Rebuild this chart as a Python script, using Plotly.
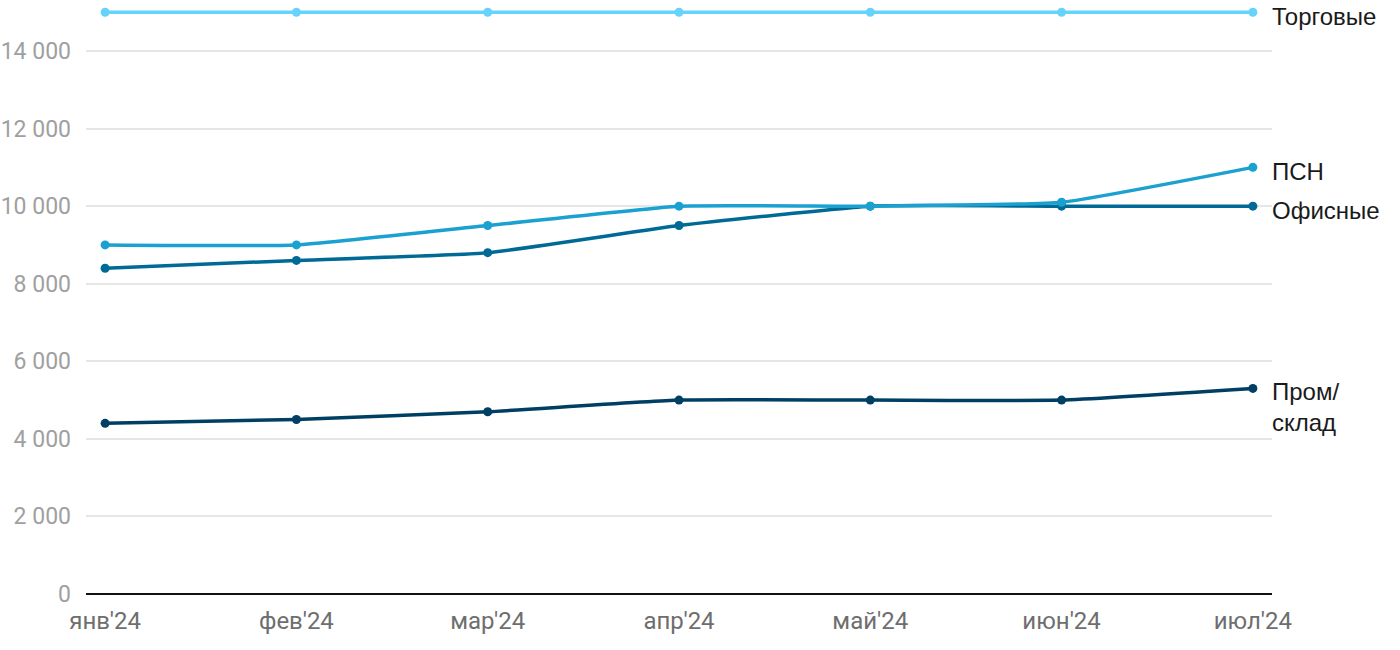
import plotly.graph_objects as go

months = ["янв'24", "фев'24", "мар'24", "апр'24", "май'24", "июн'24", "июл'24"]
torg = [15000, 15000, 15000, 15000, 15000, 15000, 15000]
psn = [9000, 9000, 9500, 10000, 10000, 10100, 11000]
office = [8400, 8600, 8800, 9500, 10000, 10000, 10000]
prom = [4400, 4500, 4700, 5000, 5000, 5000, 5300]

series = [
    ("Пром/<br>склад", prom, "#003f63", 19),
    ("Офисные", office, "#006a96", 4),
    ("ПСН", psn, "#1aa1cf", 4),
    ("Торговые", torg, "#66d4fa", 4),
]

xs = list(range(len(months)))
fig = go.Figure()
for name, vals, color, ysh in series:
    fig.add_trace(go.Scatter(
        x=xs, y=vals, mode="lines+markers",
        line=dict(color=color, width=3.5, shape="spline", smoothing=0.4),
        marker=dict(color=color, size=9),
        showlegend=False, hoverinfo="skip",
    ))
    fig.add_annotation(
        x=1, xref="paper", y=vals[-1], yref="y",
        text=name, showarrow=False, xanchor="left", yanchor="middle",
        align="left", xshift=-2, yshift=-ysh,
        font=dict(family="Liberation Sans, Arial", size=24, color="#1a1a1a"),
    )

fig.update_layout(
    width=1400, height=650,
    margin=dict(l=86, r=128, t=0, b=56),
    plot_bgcolor="white", paper_bgcolor="white",
    font=dict(family="Roboto"),
    xaxis=dict(
        range=[-0.1, 6.1], tickvals=xs, ticktext=months,
        showgrid=False, zeroline=False, showline=False, automargin=False,
        tickfont=dict(size=24, color="#6e6e6e"), ticks="", ticklabelstandoff=10,
    ),
    yaxis=dict(
        range=[0, 15315], tickvals=[0, 2000, 4000, 6000, 8000, 10000, 12000, 14000],
        ticktext=["0", "2 000", "4 000", "6 000", "8 000", "10 000", "12 000", "14 000"],
        showgrid=True, gridcolor="#e6e6e6", gridwidth=1.5, automargin=False,
        zeroline=True, zerolinecolor="#111111", zerolinewidth=2,
        tickfont=dict(size=23, color="#a0a0a0"), ticks="", ticklabelstandoff=14,
    ),
)

fig.write_html("out.html", config={"displayModeBar": False},
               post_script="document.body.style.margin='0';")
